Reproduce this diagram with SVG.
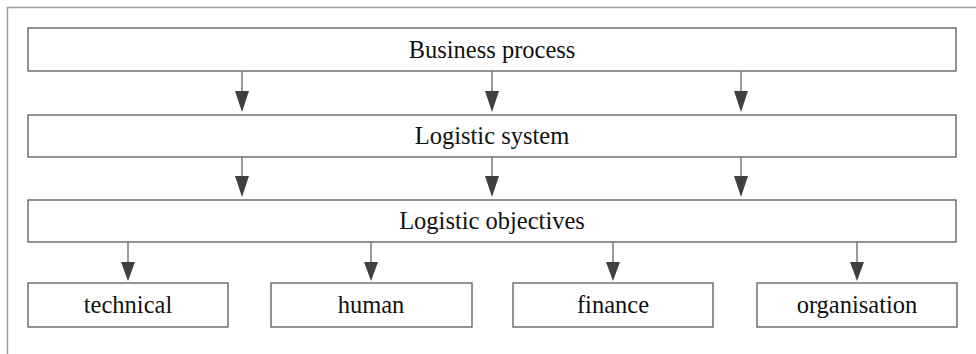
<svg xmlns="http://www.w3.org/2000/svg" width="976" height="354" viewBox="0 0 976 354">
<style>
.box{fill:#fff;stroke:#5a5a5a;stroke-width:1.3}
.lbl{font-family:"Liberation Serif","Times New Roman",serif;font-size:24.5px;fill:#111;text-anchor:middle}
.ln{stroke:#7a7a7a;stroke-width:1.5;fill:none}
.hd{fill:#404040}
</style>
<rect width="976" height="354" fill="#fff"/>
<path d="M7.5 354 V7.5 H976" fill="none" stroke="#9a9a9a" stroke-width="1.5"/>
<g id="business-process"><rect class="box" x="28" y="28" width="928" height="43"/><text class="lbl" x="492" y="58">Business process</text></g>
<g id="logistic-system"><rect class="box" x="28" y="115" width="928" height="42"/><text class="lbl" x="492" y="144">Logistic system</text></g>
<g id="logistic-objectives"><rect class="box" x="28" y="200" width="928" height="42"/><text class="lbl" x="492" y="229">Logistic objectives</text></g>
<g id="technical"><rect class="box" x="28" y="283" width="200" height="44"/><text class="lbl" x="128" y="313">technical</text></g>
<g id="human"><rect class="box" x="271" y="283" width="201" height="44"/><text class="lbl" x="371" y="313">human</text></g>
<g id="finance"><rect class="box" x="513" y="283" width="200" height="44"/><text class="lbl" x="613" y="313">finance</text></g>
<g id="organisation"><rect class="box" x="757" y="283" width="200" height="44"/><text class="lbl" x="857" y="313">organisation</text></g>
<g id="connectors">
<path class="ln" d="M242 71V92M492 71V92M741 71V92M242 157V177M492 157V177M741 157V177M128 242V263M371 242V263M613 242V263M857 242V263"/>
<g class="hd">
<polygon points="235,91 249,91 242,112"/>
<polygon points="485,91 499,91 492,112"/>
<polygon points="734,91 748,91 741,112"/>
<polygon points="235,176 249,176 242,197"/>
<polygon points="485,176 499,176 492,197"/>
<polygon points="734,176 748,176 741,197"/>
<polygon points="121,262 135,262 128,281"/>
<polygon points="364,262 378,262 371,281"/>
<polygon points="606,262 620,262 613,281"/>
<polygon points="850,262 864,262 857,281"/>
</g>
</g>
</svg>
